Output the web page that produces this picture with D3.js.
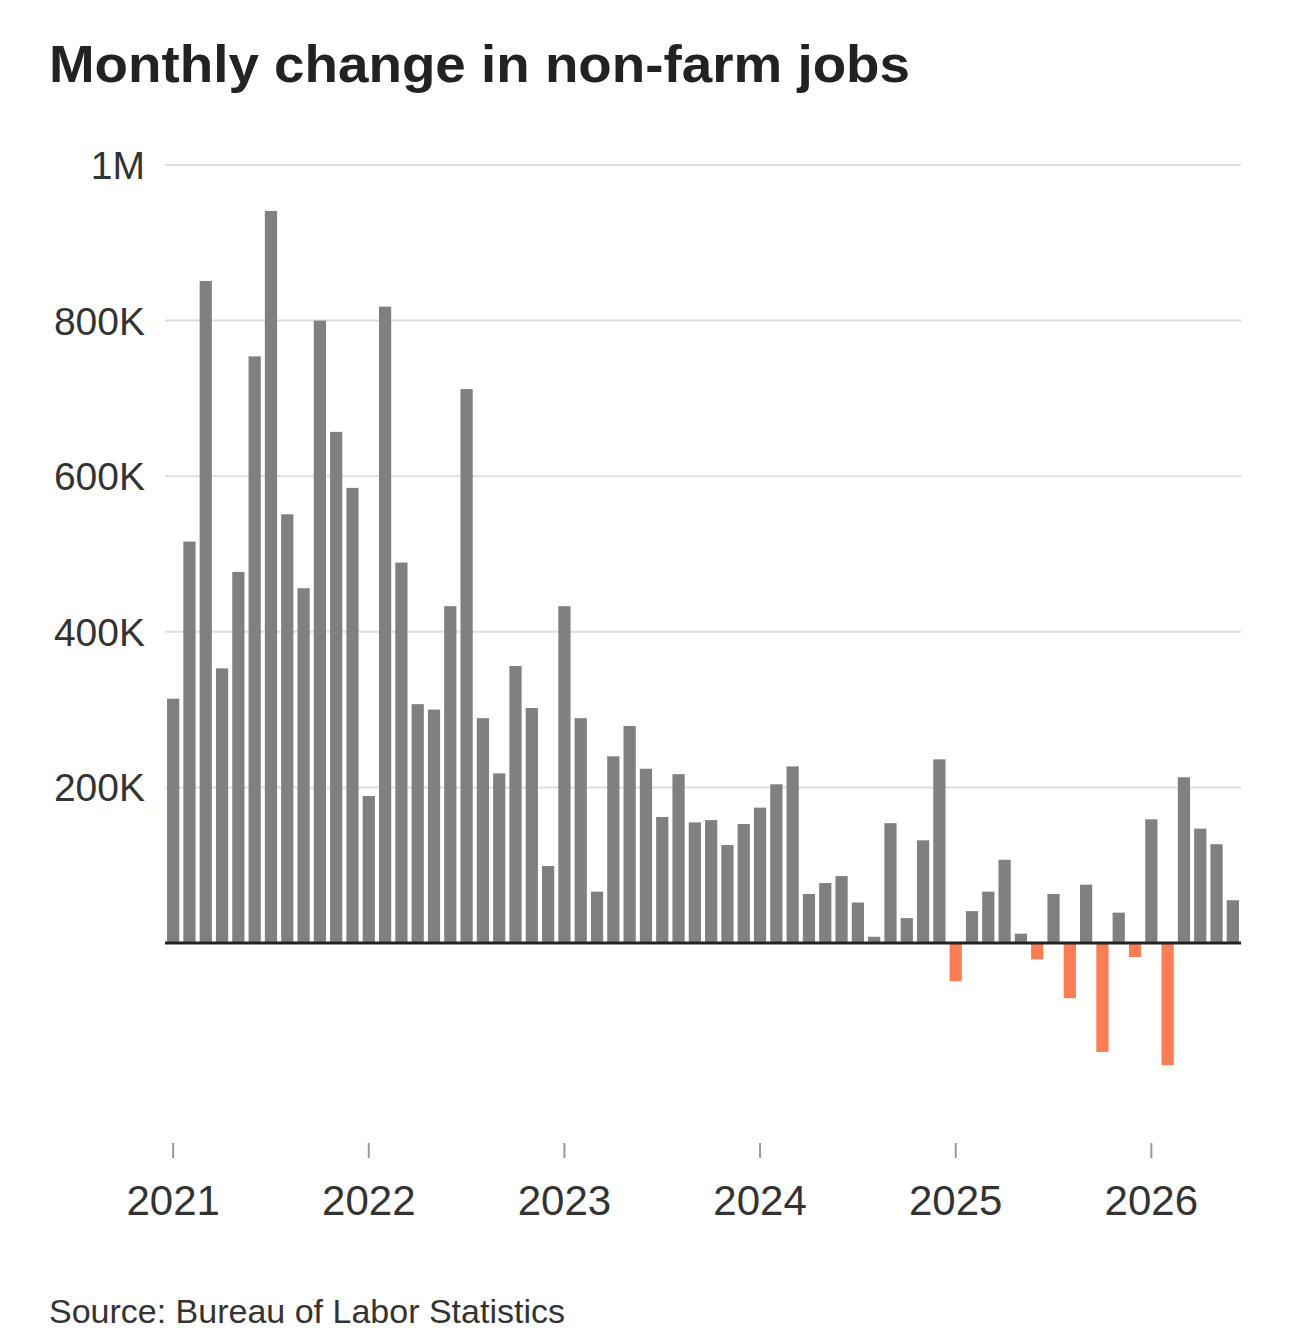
<html>
<head>
<meta charset="utf-8">
<style>
  body { margin: 0; background: #fff; }
  svg text { font-family: "Liberation Sans", Arial, sans-serif; }
</style>
</head>
<body>
<div id="chart"></div>
<script src="https://cdn.jsdelivr.net/npm/d3@7"></script>
<script>

// monthly change in non-farm payrolls, Jan 2021 .. Jun 2026 (thousands)
var jobChanges = [
  314, 516, 851, 353, 477, 754, 941, 551, 456, 800, 657, 585,
  189, 818, 489, 307, 300, 433, 712, 289, 218, 356, 302, 99,
  433, 289, 66, 240, 279, 224, 162, 217, 155, 158, 126, 153,
  174, 204, 227, 63, 77, 86, 52, 8, 154, 32, 132, 236,
  -49, 41, 66, 107, 12, -21, 63, -71, 75, -140, 39, -18,
  159, -157, 213, 147, 127, 55
];
var firstMonth = new Date(2021, 0, 1);
var yearTicks = ["2021", "2022", "2023", "2024", "2025", "2026"];
var valueTicks = [200, 400, 600, 800, 1000];
var valueTickLabels = ["200K", "400K", "600K", "800K", "1M"];

var months = jobChanges.map(function (d, i) { return d3.timeMonth.offset(firstMonth, i); });
var data = jobChanges.map(function (v, i) { return { month: months[i], value: v }; });

var width = 1290, height = 1335;
var svg = d3.select("#chart").append("svg")
  .attr("width", width)
  .attr("height", height);

var x = d3.scaleBand()
  .domain(months.map(function (d) { return +d; }))
  .range([165, 1241])
  .paddingInner(0.25)
  .paddingOuter(0.125);

var y = d3.scaleLinear()
  .domain([0, 1000])
  .range([943, 165]);

// title (reference font is wider, so stretch to its width)
svg.append("text")
  .attr("x", 49)
  .attr("y", 82)
  .attr("textLength", 861)
  .attr("lengthAdjust", "spacingAndGlyphs")
  .style("font-size", "52px")
  .style("font-weight", "bold")
  .style("fill", "#222")
  .text("Monthly change in non-farm jobs");

// gridlines
svg.append("g")
  .selectAll("line")
  .data(valueTicks)
  .join("line")
  .attr("x1", 165)
  .attr("x2", 1241)
  .attr("y1", function (d) { return y(d); })
  .attr("y2", function (d) { return y(d); })
  .style("stroke", "#dedede")
  .style("stroke-width", 2);

// y labels
svg.append("g")
  .selectAll("text")
  .data(valueTicks)
  .join("text")
  .attr("x", 145)
  .attr("y", function (d) { return y(d); })
  .attr("dy", "0.36em")
  .style("text-anchor", "end")
  .style("font-size", "39px")
  .style("fill", "#333")
  .text(function (d, i) { return valueTickLabels[i]; });

// bars
svg.append("g")
  .selectAll("rect")
  .data(data)
  .join("rect")
  .attr("x", function (d) { return x(+d.month); })
  .attr("width", x.bandwidth())
  .attr("y", function (d) { return y(Math.max(0, d.value)); })
  .attr("height", function (d) { return Math.abs(y(d.value) - y(0)); })
  .style("fill", function (d) { return d.value < 0 ? "#fb7d55" : "#808080"; });

// zero line
svg.append("line")
  .attr("x1", 165)
  .attr("x2", 1241)
  .attr("y1", y(0))
  .attr("y2", y(0))
  .style("stroke", "#222")
  .style("stroke-width", 3);

// x axis: year ticks at January bars
var xAxisG = svg.append("g")
  .selectAll("g")
  .data(yearTicks)
  .join("g")
  .attr("transform", function (d) {
    var m = +new Date(+d, 0, 1);
    return "translate(" + (x(m) + x.bandwidth() / 2) + ",0)";
  });

xAxisG.append("line")
  .attr("y1", 1143)
  .attr("y2", 1158)
  .style("stroke", "#999")
  .style("stroke-width", 2);

xAxisG.append("text")
  .attr("y", 1215)
  .style("text-anchor", "middle")
  .style("font-size", "42px")
  .style("fill", "#333")
  .text(function (d) { return d; });

// source
svg.append("text")
  .attr("x", 49)
  .attr("y", 1323)
  .style("font-size", "34px")
  .style("fill", "#333")
  .text("Source: Bureau of Labor Statistics");

</script>
</body>
</html>
